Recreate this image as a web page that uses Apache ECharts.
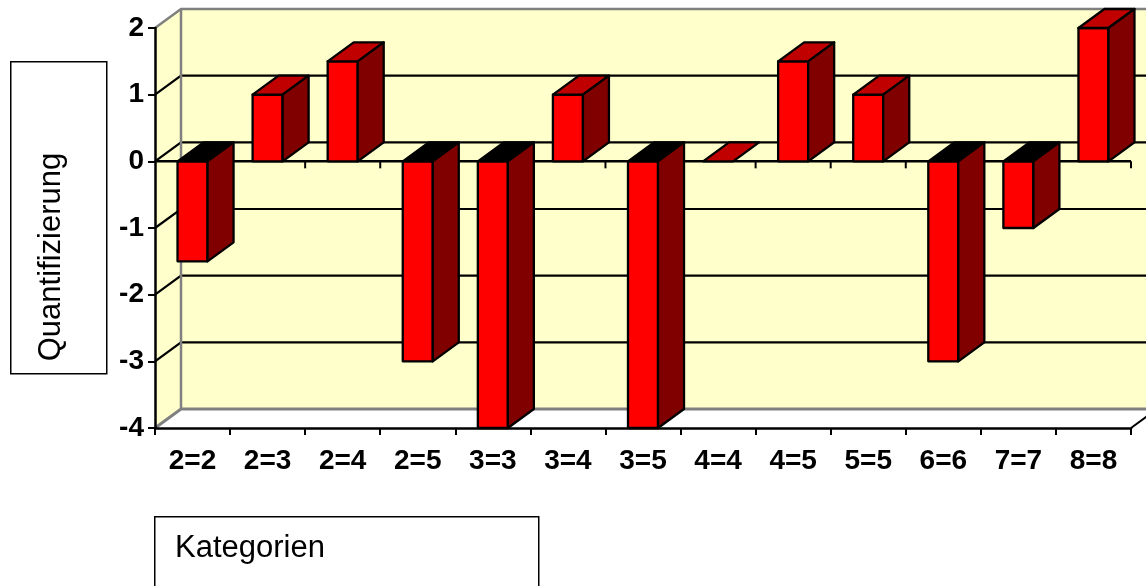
<!DOCTYPE html>
<html>
<head>
<meta charset="utf-8">
<script src="https://cdn.jsdelivr.net/npm/echarts@6/dist/echarts.min.js"></script>
<style>
html,body{margin:0;padding:0;background:#fff;}
#chart{width:1146px;height:586px;}
</style>
</head>
<body>
<div id="chart"></div>
<script>
// ---- data ----
var categories = ['2=2','2=3','2=4','2=5','3=3','3=4','3=5','4=4','4=5','5=5','6=6','7=7','8=8'];
var values = [-1.5, 1, 1.5, -3, -4, 1, -4, 0, 1.5, 1, -3, -1, 2];
var yTicks = [-4, -3, -2, -1, 0, 1, 2];
var yTitle = 'Quantifizierung';
var xTitle = 'Kategorien';

// ---- style constants ----
var DX = 26, DY = -19;
var WALL = '#FFFFCC', EDGE = '#808080';

var chart = echarts.init(document.getElementById('chart'), null, {renderer: 'canvas'});

function wallsRender(params, api) {
  var cs = params.coordSys;
  var left = cs.x, right = cs.x + cs.width;
  var yMin = api.coord([0, yTicks[0]])[1];
  var yMax = api.coord([0, yTicks[yTicks.length - 1]])[1];
  var y0 = api.coord([0, 0])[1];
  var catW = api.size([1, 0])[0];
  var children = [];
  children.push({type: 'polygon', shape: {points: [[left + DX, yMax + DY], [right + DX, yMax + DY], [right + DX, yMin + DY], [left + DX, yMin + DY]]},
    style: {fill: WALL, stroke: null}});
  children.push({type: 'polygon', shape: {points: [[left, yMax], [left + DX, yMax + DY], [left + DX, yMin + DY], [left, yMin]]},
    style: {fill: WALL, stroke: null}});
  children.push({type: 'polygon', shape: {points: [[left, yMin], [left + DX, yMin + DY], [right + DX, yMin + DY], [right, yMin]]},
    style: {fill: '#FFFFFF', stroke: null}});
  for (var i = 1; i < yTicks.length - 1; i++) {
    var y = api.coord([0, yTicks[i]])[1];
    children.push({type: 'polyline', shape: {points: [[left, y], [left + DX, y + DY], [right + DX, y + DY]]},
      style: {stroke: '#000', lineWidth: 2.2, fill: null}});
  }
  children.push({type: 'polyline', shape: {points: [[left, yMax], [left + DX, yMax + DY], [right + DX, yMax + DY]]},
    style: {stroke: EDGE, lineWidth: 2.5, fill: null}});
  children.push({type: 'line', shape: {x1: left + DX, y1: yMax + DY, x2: left + DX, y2: yMin + DY},
    style: {stroke: EDGE, lineWidth: 2.5}});
  children.push({type: 'polyline', shape: {points: [[left, yMin], [left + DX, yMin + DY], [right + DX, yMin + DY]]},
    style: {stroke: EDGE, lineWidth: 3, fill: null}});
  children.push({type: 'line', shape: {x1: right, y1: yMin, x2: right + DX, y2: yMin + DY},
    style: {stroke: '#000', lineWidth: 2}});
  children.push({type: 'line', shape: {x1: left, y1: y0, x2: right, y2: y0}, style: {stroke: '#000', lineWidth: 2.5}});
  for (var k = 1; k <= categories.length; k++) {
    var tx = left + k * catW;
    children.push({type: 'line', shape: {x1: tx, y1: y0, x2: tx, y2: y0 + 7}, style: {stroke: '#000', lineWidth: 2}});
  }
  return {type: 'group', children: children};
}

function barRender(params, api) {
  var idx = api.value(0), val = api.value(1);
  var base = api.coord([idx, 0]);
  var end = api.coord([idx, val]);
  var w = api.size([1, 0])[0] * 0.4;
  var x0 = base[0] - w / 2, x1 = base[0] + w / 2;
  var top = Math.min(base[1], end[1]), bot = Math.max(base[1], end[1]);
  var st = {stroke: '#000', lineWidth: 2.3, lineJoin: 'round'};
  var children = [];
  if (bot - top > 0.5) {
    children.push({type: 'rect', shape: {x: x0, y: top, width: w, height: bot - top},
      style: Object.assign({fill: '#FF0000'}, st)});
  }
  children.push({type: 'polygon', shape: {points: [[x0, top], [x0 + DX, top + DY], [x1 + DX, top + DY], [x1, top]]},
    style: Object.assign({fill: val < 0 ? '#000000' : '#C00000'}, st)});
  if (bot - top > 0.5) {
    children.push({type: 'polygon', shape: {points: [[x1, top], [x1 + DX, top + DY], [x1 + DX, bot + DY], [x1, bot]]},
      style: Object.assign({fill: '#800000'}, st)});
  }
  return {type: 'group', children: children};
}

var option = {
  backgroundColor: '#ffffff',
  animation: false,
  grid: {left: 155, right: 15, top: 28, bottom: 158, containLabel: false},
  xAxis: {
    type: 'category',
    data: categories,
    z: 10,
    axisLine: {onZero: false, lineStyle: {color: '#000', width: 2.5}},
    axisTick: {show: true, length: 7, lineStyle: {color: '#000', width: 2}},
    axisLabel: {color: '#000', fontFamily: 'Liberation Sans, Arial, sans-serif', fontWeight: 'bold', fontSize: 28, margin: 19, interval: 0},
    splitLine: {show: false}
  },
  yAxis: {
    type: 'value',
    min: yTicks[0], max: yTicks[yTicks.length - 1], interval: 1,
    z: 10,
    axisLine: {show: true, lineStyle: {color: '#000', width: 2.5}},
    axisTick: {show: true, length: 7, lineStyle: {color: '#000', width: 2}},
    axisLabel: {color: '#000', fontFamily: 'Liberation Sans, Arial, sans-serif', fontWeight: 'bold', fontSize: 28, margin: 11},
    splitLine: {show: false}
  },
  series: [
    {type: 'custom', renderItem: wallsRender, data: [[0, 0]], z: 1, silent: true, clip: false},
    {type: 'custom', renderItem: barRender, data: values.map(function (v, i) { return [i, v]; }), z: 3, clip: false}
  ],
  graphic: [
    {type: 'rect', left: 10, top: 61, shape: {width: 96, height: 312}, style: {fill: '#fff', stroke: '#000', lineWidth: 1.5}, z: 20},
    {type: 'text', x: 51, y: 257, rotation: Math.PI / 2,
      style: {text: yTitle, fill: '#000', font: '31px "Liberation Sans", Arial, sans-serif', textAlign: 'center', textVerticalAlign: 'middle'}, z: 21},
    {type: 'rect', left: 154, top: 516, shape: {width: 384, height: 80}, style: {fill: '#fff', stroke: '#000', lineWidth: 1.5}, z: 20},
    {type: 'text', x: 175, y: 548,
      style: {text: xTitle, fill: '#000', font: '31px "Liberation Sans", Arial, sans-serif', textAlign: 'left', textVerticalAlign: 'middle'}, z: 21}
  ]
};
chart.setOption(option);
</script>
</body>
</html>
